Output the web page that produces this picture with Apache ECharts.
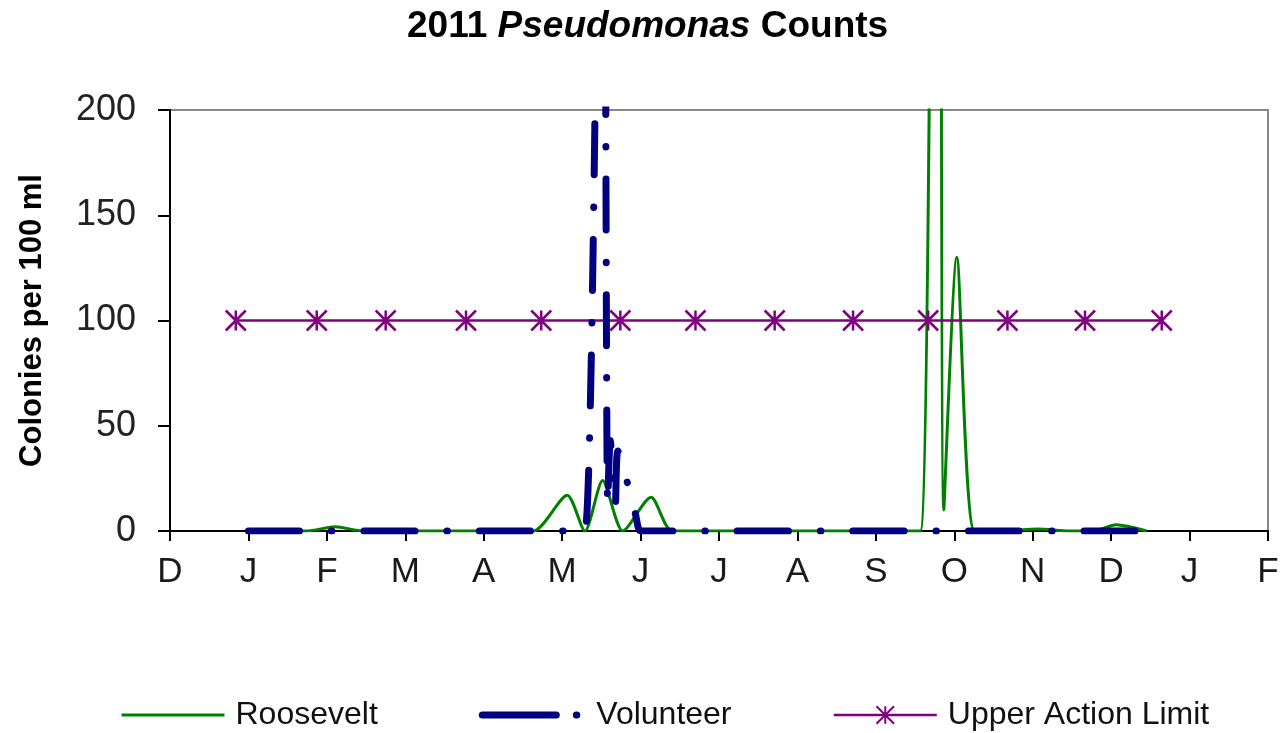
<!DOCTYPE html>
<html>
<head>
<meta charset="utf-8">
<title>2011 Pseudomonas Counts</title>
<script src="https://cdn.jsdelivr.net/npm/echarts@6/dist/echarts.min.js"></script>
<style>
  html, body { margin: 0; padding: 0; background: #fff; }
  #chart { width: 1282px; height: 733px; }
</style>
</head>
<body>
<div id="chart"></div>
<script>
// tick letters, one per month from Dec 2010 to Feb 2012
const monthLabels = ['D', 'J', 'F', 'M', 'A', 'M', 'J', 'J', 'A', 'S', 'O', 'N', 'D', 'J', 'F']
const yTicks = [0, 50, 100, 150, 200]

const rooseveltDates = [
  '2011-01-01', '2011-01-12', '2011-01-24', '2011-02-04', '2011-02-14', '2011-02-28',
  '2011-03-14', '2011-03-28', '2011-04-08', '2011-04-20', '2011-05-03', '2011-05-10',
  '2011-05-17', '2011-05-25', '2011-06-05', '2011-06-13', '2011-06-27', '2011-07-11',
  '2011-07-25', '2011-08-08', '2011-08-22', '2011-09-06', '2011-09-18', '2011-09-25',
  '2011-09-27', '2011-10-02', '2011-10-09', '2011-10-20', '2011-11-03', '2011-11-15',
  '2011-11-24', '2011-12-03', '2011-12-15'
]
const rooseveltValues = [
  0, 0, 0, 2, 0, 0,
  0, 0, 0, 0, 17, 0,
  24, 0, 16, 0, 0, 0,
  0, 0, 0, 0, 0, 900,
  10, 130, 0, 0, 1, 0,
  0, 3, 0
]

const volunteerDates = [
  '2011-01-01', '2011-01-14', '2011-01-28', '2011-02-11', '2011-02-25', '2011-03-11',
  '2011-03-25', '2011-04-08', '2011-04-22', '2011-05-03', '2011-05-10', '2011-05-17',
  '2011-05-19', '2011-05-20', '2011-05-22', '2011-05-23', '2011-05-27', '2011-05-30',
  '2011-06-01', '2011-06-08', '2011-06-22', '2011-07-06', '2011-07-20', '2011-08-03',
  '2011-08-17', '2011-08-31', '2011-09-14', '2011-09-28', '2011-10-12', '2011-10-26',
  '2011-11-09', '2011-11-23', '2011-12-07', '2011-12-16'
]
const volunteerValues = [
  0, 0, 0, 0, 0, 0,
  0, 0, 0, 0, 0, 470,
  12, 43, 12, 38, 22, 8,
  0, 0, 0, 0, 0, 0,
  0, 0, 0, 0, 0, 0,
  0, 0, 0, 0
]

const limitDates = [
  '2010-12-27', '2011-01-28', '2011-02-22', '2011-03-25', '2011-04-23', '2011-05-24',
  '2011-06-22', '2011-07-23', '2011-08-23', '2011-09-21', '2011-10-22', '2011-11-21',
  '2011-12-21'
]
const limitValues = [100, 100, 100, 100, 100, 100, 100, 100, 100, 100, 100, 100, 100]

// months since 1 Dec 2010; the axis gives every month the same width
function monthPos(s) {
  const [y, m, d] = s.split('-').map(Number)
  const days = new Date(y, m, 0).getDate()
  return (y - 2010) * 12 + (m - 12) + (d - 1) / days
}
function pairs(dates, values) {
  return dates.map((d, i) => [monthPos(d), values[i]])
}

const font = 'Liberation Sans, Arial, sans-serif'
const star = 'path://M0,0L20,20M20,0L0,20M10,0L10,20'

const chart = echarts.init(document.getElementById('chart'))
chart.setOption({
  animation: false,
  backgroundColor: '#fff',
  textStyle: { fontFamily: font },
  title: {
    text: '2011 {i|Pseudomonas} Counts',
    left: 402,
    top: 3,
    textStyle: {
      fontFamily: font,
      fontSize: 37,
      fontWeight: 'bold',
      color: '#000',
      rich: {
        i: { fontFamily: font, fontSize: 37, fontWeight: 'bold', fontStyle: 'italic', color: '#000' }
      }
    }
  },
  legend: {
    left: 115,
    top: 694,
    itemWidth: 103,
    itemHeight: 22,
    itemGap: 101,
    textStyle: { fontFamily: font, fontSize: 32, color: '#111', padding: [0, 0, 0, 6] },
    data: [
      { name: 'Roosevelt', lineStyle: { width: 3 }, itemStyle: { opacity: 0 } },
      { name: 'Volunteer', lineStyle: { width: 7, type: [74, 20, 0.5, 30], cap: 'round' }, itemStyle: { opacity: 0 } },
      { name: 'Upper Action Limit', lineStyle: { width: 2.5 } }
    ]
  },
  grid: {
    left: 170,
    right: 14,
    top: 110,
    bottom: 202,
    show: true,
    backgroundColor: '#fff',
    borderColor: '#888',
    borderWidth: 2,
    outerBoundsMode: 'none'
  },
  xAxis: {
    type: 'value',
    min: 0,
    max: monthLabels.length - 1,
    interval: 1,
    axisLine: { lineStyle: { color: '#000', width: 2 } },
    axisTick: { length: 10, lineStyle: { color: '#000', width: 2 } },
    splitLine: { show: false },
    axisLabel: {
      margin: 24,
      fontFamily: font,
      fontSize: 35,
      color: '#1a1a1a',
      formatter: v => monthLabels[v] || ''
    }
  },
  yAxis: {
    type: 'value',
    min: yTicks[0],
    max: yTicks[yTicks.length - 1],
    interval: 50,
    name: 'Colonies per 100 ml',
    nameLocation: 'middle',
    nameGap: 122,
    nameTextStyle: { fontFamily: font, fontSize: 31, fontWeight: 'bold', color: '#000' },
    axisLine: { show: true, lineStyle: { color: '#000', width: 2 } },
    axisTick: { show: true, length: 12, lineStyle: { color: '#000', width: 2 } },
    splitLine: { show: false },
    axisLabel: { margin: 34, fontFamily: font, fontSize: 36, color: '#222' }
  },
  series: [
    {
      name: 'Roosevelt',
      type: 'line',
      z: 2,
      smooth: 0.25,
      symbol: 'none',
      data: pairs(rooseveltDates, rooseveltValues),
      lineStyle: { color: '#008000', width: 3 },
      itemStyle: { color: '#008000' },
      emphasis: { disabled: true }
    },
    {
      name: 'Volunteer',
      type: 'line',
      z: 4,
      smooth: 0.25,
      symbol: 'none',
      data: pairs(volunteerDates, volunteerValues),
      lineStyle: { color: '#000080', width: 7, type: [51, 32, 0.5, 32], cap: 'round' },
      itemStyle: { color: '#000080' },
      emphasis: { disabled: true }
    },
    {
      name: 'Upper Action Limit',
      type: 'line',
      z: 3,
      symbol: star,
      symbolSize: 20,
      data: pairs(limitDates, limitValues),
      lineStyle: { color: '#800080', width: 2.5 },
      itemStyle: { color: '#800080', borderColor: '#800080', borderWidth: 2.5 },
      emphasis: { disabled: true }
    }
  ]
})
</script>
</body>
</html>
